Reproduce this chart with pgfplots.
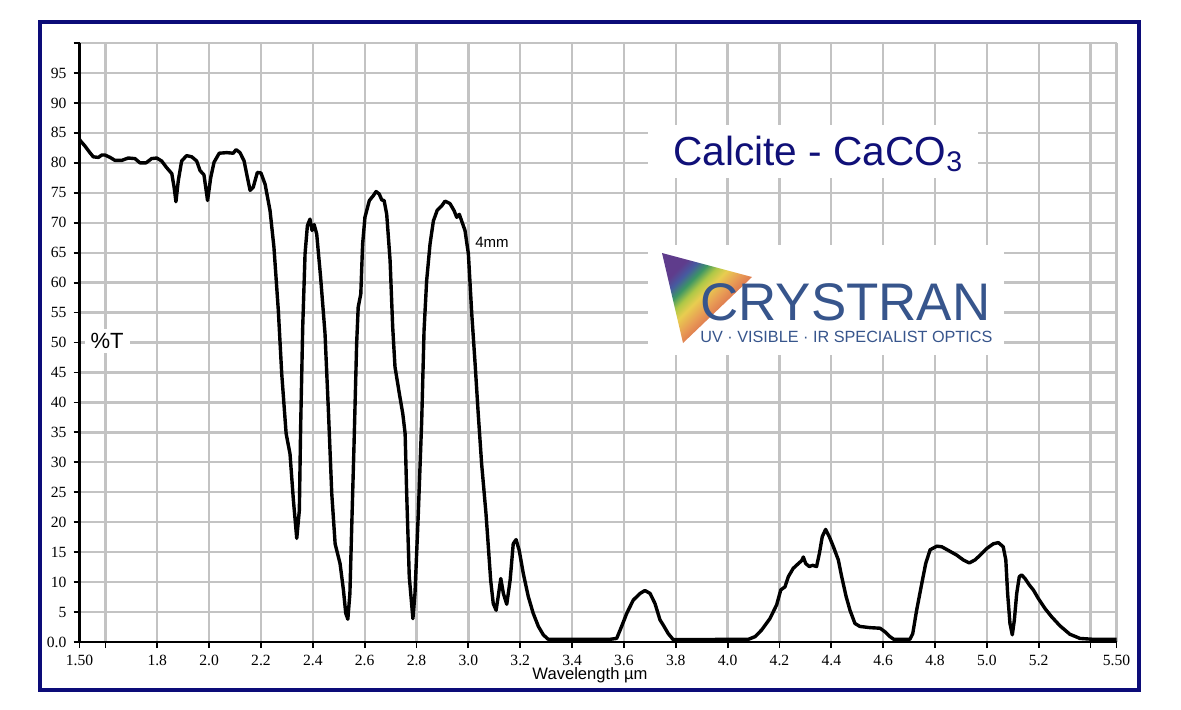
\documentclass[border=0pt]{standalone}
\usepackage{pgfplots}
\pgfplotsset{compat=1.18}
\usepackage{fontspec}
\setmainfont{Liberation Serif}
\newfontfamily\arial{Liberation Sans}
\definecolor{frameblue}{RGB}{12,12,120}
\definecolor{titleblue}{RGB}{16,16,120}
\definecolor{logoblue}{RGB}{55,85,140}
\definecolor{gridgray}{RGB}{195,195,195}
\definecolor{r1}{RGB}{95,60,140}
\definecolor{r2}{RGB}{70,90,160}
\definecolor{r3}{RGB}{60,150,100}
\definecolor{r4}{RGB}{175,200,70}
\definecolor{r5}{RGB}{232,205,80}
\definecolor{r6}{RGB}{232,155,85}
\definecolor{r7}{RGB}{215,95,75}
\pgfdeclarehorizontalshading{rainbow}{100bp}{color(0bp)=(r1); color(27bp)=(r1); color(32bp)=(r2); color(37bp)=(r3); color(42bp)=(r4); color(47bp)=(r5); color(54bp)=(r6); color(64bp)=(r7); color(100bp)=(r7)}
\def\px#1#2{({(#1)*0.5pt},{(709-(#2))*0.5pt})}
\begin{document}
\begin{tikzpicture}
\path[use as bounding box, fill=white] (0,0) rectangle (590.5pt,354.5pt);
\begin{axis}[
  at={(39.75pt,33.5pt)}, anchor=south west,
  scale only axis, width=518.5pt, height=299.5pt,
  xmin=1.5, xmax=5.5, ymin=0, ymax=100,
  axis x line*=bottom, axis y line*=left,
  axis line style={black, line width=1.3pt, -},
  tick align=outside, major tick length=3pt,
  tick style={black, line width=0.9pt},
  grid=major, major grid style={draw=gridgray, line width=1.15pt},
  xtick={1.5,1.6,1.8,2.0,2.2,2.4,2.6,2.8,3.0,3.2,3.4,3.6,3.8,4.0,4.2,4.4,4.6,4.8,5.0,5.2,5.4,5.5},
  xticklabels={1.50,{},1.8,2.0,2.2,2.4,2.6,2.8,3.0,3.2,3.4,3.6,3.8,4.0,4.2,4.4,4.6,4.8,5.0,5.2,{},5.50},
  ytick={0,5,...,100},
  yticklabels={0.0,5,10,15,20,25,30,35,40,45,50,55,60,65,70,75,80,85,90,95,{}},
  tick label style={font=\fontsize{7.8}{9}\selectfont},
  clip=false,
]
\addplot[black, line width=1.7pt, line join=round] coordinates {
(1.500,83.9) (1.505,83.6) (1.521,82.8) (1.540,81.7) (1.553,81.0) (1.573,80.9) (1.586,81.3) (1.598,81.3) (1.618,80.9) (1.637,80.4) (1.663,80.4) (1.688,80.8) (1.714,80.7) (1.733,80.0) (1.757,80.0) (1.778,80.7) (1.798,80.8) (1.817,80.3) (1.836,79.2) (1.856,78.2) (1.865,75.9) (1.872,73.5) (1.881,77.0) (1.894,80.3) (1.913,81.2) (1.933,81.0) (1.952,80.3) (1.965,78.7) (1.980,78.0) (1.994,73.7) (2.006,77.5) (2.019,80.1) (2.039,81.6) (2.068,81.7) (2.093,81.6) (2.104,82.2) (2.119,81.7) (2.135,80.3) (2.145,78.1) (2.158,75.4) (2.170,75.9) (2.186,78.4) (2.200,78.3) (2.216,76.4) (2.235,72.0) (2.250,65.9) (2.267,55.3) (2.280,44.8) (2.297,34.8) (2.312,31.4) (2.325,23.7) (2.338,17.3) (2.348,22.0) (2.353,35.9) (2.361,52.6) (2.370,64.8) (2.379,69.5) (2.389,70.6) (2.397,68.7) (2.405,69.7) (2.415,68.1) (2.430,60.9) (2.447,51.5) (2.460,38.7) (2.473,24.8) (2.486,16.4) (2.505,13.1) (2.518,8.7) (2.527,4.8) (2.535,3.8) (2.543,8.1) (2.550,19.2) (2.559,33.1) (2.569,49.8) (2.575,55.9) (2.585,58.1) (2.592,66.4) (2.601,70.9) (2.618,73.7) (2.633,74.5) (2.644,75.2) (2.656,74.8) (2.666,73.8) (2.675,73.7) (2.685,71.4) (2.698,63.7) (2.708,52.6) (2.717,45.9) (2.734,41.4) (2.747,38.1) (2.756,34.8) (2.762,24.8) (2.772,10.9) (2.786,3.9) (2.794,8.1) (2.807,21.6) (2.820,37.0) (2.829,52.0) (2.839,60.3) (2.852,66.4) (2.865,70.3) (2.880,72.1) (2.897,72.8) (2.910,73.6) (2.929,73.2) (2.945,72.0) (2.955,70.9) (2.965,71.4) (2.974,70.3) (2.987,68.7) (3.000,64.8) (3.013,54.8) (3.026,46.4) (3.038,38.1) (3.051,29.8) (3.068,21.4) (3.077,15.9) (3.086,10.3) (3.096,6.4) (3.107,5.3) (3.115,7.6) (3.125,10.6) (3.135,8.1) (3.148,6.3) (3.161,10.3) (3.173,16.4) (3.184,17.1) (3.196,15.3) (3.212,11.4) (3.231,7.6) (3.250,4.8) (3.270,2.6) (3.289,1.2) (3.308,0.45) (3.546,0.45) (3.572,0.6) (3.591,2.6) (3.611,4.8) (3.636,7.0) (3.662,8.1) (3.681,8.6) (3.701,8.1) (3.720,6.4) (3.739,3.7) (3.752,2.8) (3.771,1.4) (3.790,0.4) (4.080,0.45) (4.106,0.9) (4.131,2.0) (4.163,3.9) (4.189,6.2) (4.205,8.7) (4.221,9.2) (4.234,10.9) (4.253,12.3) (4.273,13.1) (4.286,13.6) (4.292,14.2) (4.301,13.1) (4.315,12.6) (4.328,12.8) (4.343,12.6) (4.354,14.8) (4.365,17.6) (4.378,18.8) (4.392,17.6) (4.408,15.9) (4.427,13.7) (4.440,10.9) (4.457,7.6) (4.472,5.3) (4.491,3.1) (4.510,2.6) (4.549,2.4) (4.588,2.3) (4.607,1.7) (4.626,0.9) (4.641,0.45) (4.703,0.45) (4.714,1.4) (4.729,5.3) (4.749,9.8) (4.764,13.1) (4.781,15.4) (4.807,16.0) (4.826,15.9) (4.851,15.3) (4.884,14.5) (4.909,13.7) (4.932,13.2) (4.954,13.7) (4.974,14.5) (4.999,15.6) (5.025,16.4) (5.044,16.6) (5.063,15.9) (5.073,13.7) (5.080,8.1) (5.089,3.1) (5.098,1.2) (5.106,3.7) (5.115,8.1) (5.125,10.9) (5.134,11.2) (5.147,10.6) (5.164,9.5) (5.179,8.7) (5.198,7.3) (5.224,5.6) (5.250,4.2) (5.282,2.7) (5.320,1.3) (5.359,0.6) (5.411,0.45) (5.500,0.45)
};
\end{axis}
% white boxes over grid
\fill[white] \px{648}{125} rectangle \px{978}{178};
\fill[white] \px{648}{245} rectangle \px{1004}{355};
% title
\node[anchor=base west, inner sep=0, font=\arial\fontsize{20.3}{21}\selectfont, text=titleblue] at \px{673}{165} {Calcite - CaCO\textsubscript{3}};
% logo
\shade[shading=rainbow, shading angle=-45] \px{662}{253} -- \px{752}{277} -- \px{683}{343} -- cycle;
\node[anchor=base west, inner sep=0, text=logoblue, font=\arial] at \px{700}{320} {\resizebox{145pt}{!}{CRYSTRAN}};
\node[anchor=base west, inner sep=0, text=logoblue, font=\arial] at \px{700}{342} {\resizebox{146pt}{!}{UV · VISIBLE · IR SPECIALIST OPTICS}};
% labels
\node[fill=white, inner xsep=3pt, inner ysep=2pt, font=\arial\fontsize{11}{12}\selectfont] at \px{107}{341} {\%T};
\node[inner sep=0, font=\arial\fontsize{7.5}{8}\selectfont] at \px{492}{242} {4mm};
\node[inner sep=0, font=\arial\fontsize{8.3}{9}\selectfont] at \px{590}{675} {Wavelength µm};
% frame
\draw[frameblue, line width=2pt] \px{40}{22} rectangle \px{1139}{690};
\end{tikzpicture}
\end{document}
